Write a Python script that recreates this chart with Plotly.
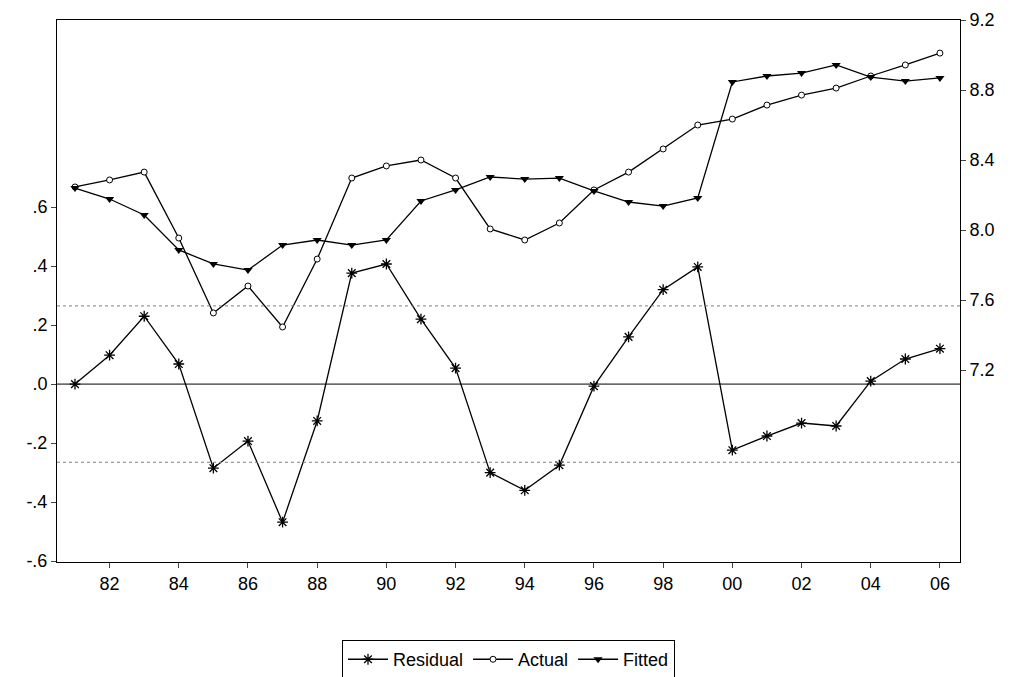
import plotly.graph_objects as go

years = list(range(1981, 2007))
residual = [0.0, 0.098, 0.23, 0.068, -0.285, -0.193, -0.468, -0.125, 0.376, 0.407,
            0.22, 0.054, -0.30, -0.36, -0.275, -0.007, 0.16, 0.32, 0.397, -0.224,
            -0.176, -0.132, -0.142, 0.01, 0.085, 0.12]
actual = [8.246, 8.286, 8.331, 7.954, 7.526, 7.68, 7.446, 7.834, 8.297, 8.366,
          8.40, 8.297, 8.006, 7.943, 8.04, 8.229, 8.331, 8.463, 8.60, 8.634,
          8.714, 8.771, 8.811, 8.88, 8.943, 9.011]
fitted = [8.24, 8.177, 8.086, 7.886, 7.806, 7.771, 7.914, 7.943, 7.914, 7.943,
          8.166, 8.229, 8.303, 8.291, 8.297, 8.223, 8.16, 8.137, 8.183, 8.846,
          8.88, 8.897, 8.943, 8.874, 8.851, 8.869]
left_ticks = [-0.6, -0.4, -0.2, 0.0, 0.2, 0.4, 0.6]
left_labels = ["-.6", "-.4", "-.2", ".0", ".2", ".4", ".6"]
right_ticks = [7.2, 7.6, 8.0, 8.4, 8.8, 9.2]
x_ticks = list(range(1982, 2007, 2))
x_labels = [f"{y % 100:02d}" for y in x_ticks]
std_band = 0.265

fig = go.Figure()
fig.add_trace(go.Scatter(x=years, y=residual, name="Residual", mode="lines+markers",
                         line=dict(color="black", width=1.3),
                         marker=dict(symbol="asterisk-open", size=9, color="black",
                                     line=dict(width=1.3, color="black"))))
fig.add_trace(go.Scatter(x=years, y=actual, name="Actual", yaxis="y2", mode="lines+markers",
                         line=dict(color="black", width=1.3),
                         marker=dict(symbol="circle", size=6, color="white",
                                     line=dict(width=1, color="black"))))
fig.add_trace(go.Scatter(x=years, y=fitted, name="Fitted", yaxis="y2", mode="lines+markers",
                         line=dict(color="black", width=1.3),
                         marker=dict(symbol="triangle-down", size=8, color="black")))

for v in (std_band, -std_band):
    fig.add_hline(y=v, line=dict(color="gray", width=1, dash="dot"))
fig.add_hline(y=0, line=dict(color="black", width=1))

fig.update_layout(
    width=1022, height=677, plot_bgcolor="white", paper_bgcolor="white",
    margin=dict(l=49, r=70, t=12, b=123, autoexpand=False),
    font=dict(family="Liberation Sans, Arial", size=18, color="black"),
    xaxis=dict(range=[1980.48, 2006.58], tickvals=x_ticks, ticktext=x_labels,
               ticks="outside", ticklen=5, showgrid=False, zeroline=False,
               showline=True, linecolor="black", mirror=True),
    yaxis=dict(range=[-0.603, 1.234], tickvals=left_ticks, ticktext=left_labels,
               ticks="outside", ticklen=5, showgrid=False, zeroline=False,
               showline=True, linecolor="black"),
    yaxis2=dict(range=[6.103, 9.2], tickvals=right_ticks, tickformat=".1f",
                overlaying="y", side="right", ticks="outside", ticklen=5,
                showgrid=False, zeroline=False, showline=True, linecolor="black"),
    legend=dict(orientation="h", x=0.5, xanchor="center", y=-0.144, yanchor="top",
                bordercolor="black", borderwidth=1, font=dict(size=18),
                itemwidth=40, tracegroupgap=0),
)

fig.write_html("out.html")
